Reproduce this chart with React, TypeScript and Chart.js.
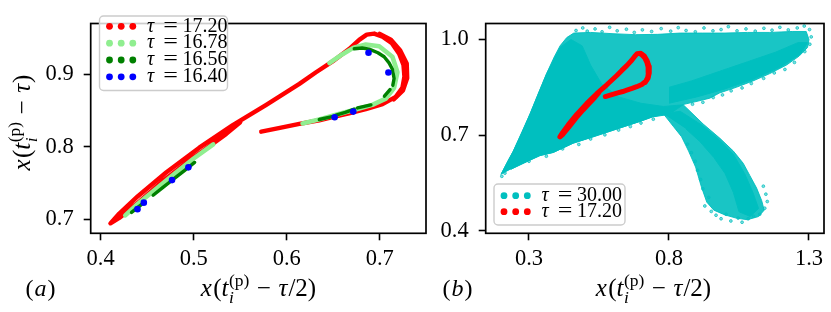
import React, { useEffect, useRef } from "react";
import { Chart, registerables } from "chart.js";
Chart.register(...registerables);

type P = [number, number];

// ---------- Panel (a) data ----------
const tau1720Arcs: P[][] = [
  [[0.5726,0.8210],[0.5900,0.8255],[0.6136,0.8318],[0.6350,0.8368],[0.6493,0.8410],[0.6680,0.8465],[0.6850,0.8520],[0.7030,0.8590],[0.7172,0.8690],[0.7243,0.8815],[0.7265,0.8970],[0.7255,0.9130],[0.7208,0.9286],[0.7130,0.9430],[0.7030,0.9520],[0.6940,0.9564],[0.6860,0.9550],[0.6779,0.9477],[0.6670,0.9350],[0.6493,0.9180],[0.6315,0.9030],[0.6136,0.8870],[0.5780,0.8580],[0.5420,0.8300],[0.5060,0.7990],[0.4707,0.7650],[0.4400,0.7320],[0.4200,0.7080],[0.4105,0.6945],[0.4200,0.7020],[0.4420,0.7250],[0.4680,0.7540],[0.4930,0.7790],[0.5180,0.8020],[0.5350,0.8180],[0.5500,0.8340]],
  [[0.7000,0.9560],[0.7120,0.9480],[0.7220,0.9330],[0.7290,0.9150],[0.7295,0.8950],[0.7250,0.8780],[0.7150,0.8655]],
];
const tau1678Arcs: P[][] = [
  [[0.4265,0.7055],[0.4400,0.7215],[0.4600,0.7425],[0.4800,0.7635],[0.5000,0.7840],[0.5210,0.8035]],
  [[0.6458,0.9157],[0.6600,0.9280],[0.6720,0.9370],[0.6850,0.9414],[0.6994,0.9390],[0.7136,0.9244],[0.7190,0.9030],[0.7154,0.8815],[0.7065,0.8667],[0.6920,0.8580],[0.6750,0.8520],[0.6550,0.8450],[0.6350,0.8380],[0.6170,0.8324]],
];
const tau1656Arcs: P[][] = [
  [[0.6726,0.9355],[0.6810,0.9365],[0.6886,0.9350],[0.6980,0.9300],[0.7047,0.9244],[0.7100,0.9160],[0.7136,0.9072],[0.7154,0.8944],[0.7140,0.8850]],
  [[0.7110,0.8790],[0.7050,0.8700]],
  [[0.6905,0.8580],[0.6761,0.8538]],
  [[0.6726,0.8520],[0.6630,0.8478],[0.6530,0.8440]],
  [[0.6476,0.8415],[0.6350,0.8378]],
  [[0.4332,0.7097],[0.4457,0.7224]],
  [[0.4564,0.7333],[0.4670,0.7441],[0.4778,0.7550]],
  [[0.4796,0.7569],[0.4900,0.7674],[0.5010,0.7786]],
];
const tau1640Points: P[] = [
  [0.4396,0.7141],[0.4464,0.7231],[0.4767,0.7542],[0.4943,0.7718],
  [0.6515,0.8410],[0.6715,0.8487],[0.6879,0.9299],[0.7093,0.9026],
];

// ---------- Panel (b) data ----------
const tau3000Outline: P[] = [
  [0.200,0.577],[0.222,0.615],[0.244,0.650],[0.275,0.708],[0.304,0.767],[0.333,0.830],[0.363,0.893],[0.390,0.945],[0.411,0.980],[0.435,1.006],[0.460,1.020],[0.520,1.022],[0.600,1.018],[0.680,1.015],[0.760,1.016],[0.840,1.020],[0.920,1.020],[1.000,1.020],[1.080,1.022],[1.160,1.022],[1.240,1.025],[1.290,1.025],[1.300,1.000],[1.295,0.975],[1.265,0.948],[1.220,0.920],[1.160,0.893],[1.100,0.870],[1.040,0.850],[0.980,0.832],[0.946,0.816],[0.900,0.806],[0.850,0.796],
  [0.875,0.775],[0.922,0.735],[0.982,0.690],[1.030,0.650],[1.065,0.612],[1.089,0.573],[1.113,0.534],[1.131,0.495],[1.140,0.465],[1.120,0.445],[1.080,0.435],[1.040,0.440],[1.000,0.450],[0.960,0.465],[0.935,0.490],[0.915,0.540],[0.895,0.600],[0.870,0.650],[0.845,0.695],[0.815,0.728],[0.780,0.767],
  [0.740,0.757],[0.696,0.743],[0.640,0.727],[0.578,0.709],[0.520,0.692],[0.458,0.675],[0.387,0.646],[0.339,0.636],[0.280,0.613],[0.235,0.593],
];
const tau3000DenseLeft: P[] = [
  [0.200,0.577],[0.244,0.650],[0.304,0.767],[0.363,0.893],[0.411,0.975],[0.450,1.000],[0.490,0.980],[0.520,0.920],[0.560,0.860],[0.620,0.820],[0.700,0.800],[0.780,0.790],[0.850,0.795],[0.800,0.765],[0.740,0.757],[0.696,0.743],[0.578,0.709],[0.458,0.675],[0.387,0.646],[0.339,0.636],[0.235,0.593],
];
const tau3000DenseRight: P[] = [
  [0.800,0.800],[0.900,0.820],[1.000,0.845],[1.100,0.875],[1.200,0.915],[1.270,0.955],[1.295,0.990],[1.260,0.990],[1.180,0.960],[1.080,0.930],[0.980,0.900],[0.880,0.870],[0.800,0.850],
];
const tau3000DenseLower: P[] = [
  [0.780,0.767],[0.840,0.775],[0.920,0.730],[0.980,0.685],[1.030,0.640],[1.070,0.580],[1.100,0.520],[1.120,0.470],[1.090,0.445],[1.050,0.460],[1.030,0.520],[1.000,0.580],[0.960,0.630],[0.910,0.680],[0.860,0.720],
];
const tau3000Sparse: P[] = [
  [0.468,1.028],[0.492,1.036],[0.508,1.026],[0.536,1.033],[0.561,1.024],[0.588,1.038],[0.615,1.027],[0.648,1.032],[0.676,1.022],[0.705,1.030],[0.738,1.025],[0.772,1.034],[0.806,1.026],[0.833,1.037],[0.861,1.028],[0.894,1.024],[0.925,1.036],[0.957,1.027],[0.986,1.031],[1.012,1.040],[1.043,1.027],[1.075,1.033],[1.108,1.026],[1.139,1.035],[1.168,1.029],[1.196,1.038],[1.226,1.030],[1.258,1.036],[1.283,1.042],[1.302,1.031],[1.308,1.008],[1.303,0.985],[1.285,0.962],
  [1.248,0.928],[1.214,0.906],[1.176,0.895],[1.138,0.878],[1.094,0.862],[1.061,0.848],[1.022,0.839],[0.991,0.826],[0.958,0.818],[0.921,0.803],[0.884,0.797],
  [0.928,0.478],[0.942,0.505],[0.951,0.461],[0.968,0.449],[0.986,0.438],[1.004,0.452],[1.021,0.431],[1.047,0.440],[1.061,0.427],[1.083,0.438],[1.102,0.446],[1.124,0.452],[1.142,0.471],[1.151,0.492],[1.146,0.515],[1.137,0.540],[0.921,0.532],[0.913,0.561],[0.902,0.590],[0.894,0.618],[0.880,0.645],[0.866,0.672],
  [0.300,0.618],[0.362,0.634],[0.420,0.657],[0.478,0.671],[0.520,0.688],[0.571,0.701],[0.620,0.716],[0.662,0.727],[0.700,0.738],[0.744,0.750],[0.203,0.571],[0.214,0.581],
];

// ---------- axes ----------
const aXRange: P = [0.3893, 0.7497];
const aYRange: P = [0.6808, 0.9703];
const aXTicks = [0.4, 0.5, 0.6, 0.7];
const aYTicks = [0.7, 0.8, 0.9];
const bXRange: P = [0.1454, 1.3536];
const bYRange: P = [0.3924, 1.050];
const bXTicks = [0.3, 0.8, 1.3];
const bYTicks = [0.4, 0.7, 1.0];

const legendALabels = ["17.20", "16.78", "16.56", "16.40"];
const legendAColors = ["#ff0000", "#90ee90", "#008000", "#0000ff"];
const legendBLabels = ["30.00", "17.20"];
const legendBColors = ["#00bfbf", "#ff0000"];

const RED = "#ff0000";
const LGREEN = "#90ee90";
const DGREEN = "#008000";
const BLUE = "#0000ff";
const CYAN = "#00bfbf";
const FONT = '"Liberation Serif", "DejaVu Serif", serif';
const TICK_SIZE = 22.5;
const LEGEND_SIZE = 20;
const LABEL_SIZE = 25;

const toXY = (pts: P[]) => pts.map(([x, y]) => ({ x, y }));
const lineDs = (pts: P[], color: string, width: number) => ({
  data: toXY(pts), borderColor: color, backgroundColor: color, borderWidth: width,
  pointRadius: 0, showLine: true, fill: false, tension: 0,
  borderCapStyle: "round", borderJoinStyle: "round",
});
const shapeDs = (pts: P[], color: string) => ({
  data: toXY(pts), borderColor: color, backgroundColor: color, borderWidth: 1,
  pointRadius: 0, showLine: true, fill: "shape", tension: 0,
});

function layoutMath(ctx: CanvasRenderingContext2D, size: number, tail: string, draw: boolean, x0: number, base: number) {
  let x = x0;
  const f = (it: boolean, s: number) => `${it ? "italic " : ""}${s}px ${FONT}`;
  const put = (t: string, it: boolean, s: number, dy: number) => {
    ctx.font = f(it, s);
    if (draw) ctx.fillText(t, x, base + dy);
    return ctx.measureText(t).width;
  };
  x += put("x", true, size, 0) + 0.05 * size;
  x += put("(", false, size, 0);
  x += put("t", true, size, 0) + 0.02 * size;
  const s2 = size * 0.7;
  const w1 = put("(p)", false, s2, -0.42 * size);
  const w2 = put("i", true, s2, 0.26 * size);
  x += Math.max(w1, w2) + 0.3 * size;
  x += put("\u2212", false, size, 0) + 0.3 * size;
  x += put("\u03c4", true, size, 0) + 0.04 * size;
  x += put(tail, false, size, 0);
  return x - x0;
}
function drawMathCentered(ctx: CanvasRenderingContext2D, cx: number, base: number, size: number, tail: string) {
  ctx.save();
  ctx.fillStyle = "#000";
  ctx.textAlign = "left";
  ctx.textBaseline = "alphabetic";
  const w = layoutMath(ctx, size, tail, false, 0, 0);
  layoutMath(ctx, size, tail, true, cx - w / 2, base);
  ctx.restore();
}
function drawPanelTag(ctx: CanvasRenderingContext2D, cx: number, base: number, letter: string) {
  ctx.save();
  ctx.fillStyle = "#000";
  ctx.textBaseline = "alphabetic";
  ctx.textAlign = "left";
  const s = 24;
  ctx.font = `${s}px ${FONT}`;
  const w1 = ctx.measureText("(").width;
  ctx.font = `italic ${s}px ${FONT}`;
  const w2 = ctx.measureText(letter).width;
  let x = cx - (2 * w1 + w2 + 2) / 2;
  ctx.font = `${s}px ${FONT}`; ctx.fillText("(", x, base); x += w1 + 1;
  ctx.font = `italic ${s}px ${FONT}`; ctx.fillText(letter, x, base); x += w2 + 1;
  ctx.font = `${s}px ${FONT}`; ctx.fillText(")", x, base);
  ctx.restore();
}
function drawLegend(ctx: CanvasRenderingContext2D, left: number, top: number, w: number, h: number, rowY: number[], labels: string[], colors: string[]) {
  ctx.save();
  const r = 4;
  ctx.beginPath();
  ctx.moveTo(left + r, top);
  ctx.arcTo(left + w, top, left + w, top + h, r);
  ctx.arcTo(left + w, top + h, left, top + h, r);
  ctx.arcTo(left, top + h, left, top, r);
  ctx.arcTo(left, top, left + w, top, r);
  ctx.closePath();
  ctx.fillStyle = "rgba(255,255,255,0.8)";
  ctx.fill();
  ctx.strokeStyle = "#cccccc";
  ctx.lineWidth = 1.4;
  ctx.stroke();
  const size = LEGEND_SIZE;
  labels.forEach((lab, i) => {
    const y = rowY[i];
    ctx.fillStyle = colors[i];
    [10, 21.7, 33.3].forEach((dx) => {
      ctx.beginPath();
      ctx.arc(left + dx, y, 3.4, 0, Math.PI * 2);
      ctx.fill();
    });
    ctx.fillStyle = "#000";
    ctx.textBaseline = "middle";
    ctx.textAlign = "left";
    const tx = left + 47.5;
    ctx.font = `italic ${size}px ${FONT}`;
    ctx.fillText("\u03c4", tx, y);
    ctx.font = `${size}px ${FONT}`;
    ctx.save();
    ctx.translate(tx + 16.3, y);
    ctx.scale(1.3, 1);
    ctx.fillText("=", 0, 0);
    ctx.restore();
    ctx.fillText(lab, tx + 35.5, y);
  });
  ctx.restore();
}
const framePlugin = {
  id: "frame",
  afterDatasetsDraw(chart: any) {
    const { ctx, chartArea: a } = chart;
    ctx.save();
    ctx.strokeStyle = "#000";
    ctx.lineWidth = 1.7;
    ctx.strokeRect(a.left, a.top, a.right - a.left, a.bottom - a.top);
    ctx.restore();
  },
};

function axisCfg(range: P, ticks: number[], isX: boolean, fit: number) {
  return {
    type: "linear",
    min: range[0],
    max: range[1],
    afterBuildTicks: (s: any) => { s.ticks = ticks.map((v) => ({ value: v })); },
    afterFit: (s: any) => { if (isX) s.height = fit; else s.width = fit; },
    ticks: {
      callback: (v: any) => Number(v).toFixed(1),
      font: { family: FONT, size: TICK_SIZE },
      color: "#000",
      padding: isX ? 5 : 10,
      maxRotation: 0,
      autoSkip: false,
    },
    grid: { display: true, drawOnChartArea: false, drawTicks: true, tickLength: 7, tickWidth: 1.6, tickColor: "#000", color: "#000" },
    border: { display: false },
  };
}

function makeA(canvas: HTMLCanvasElement) {
  const datasets: any[] = [];
  datasets.push({ data: toXY(tau1640Points), showLine: false, pointRadius: 3.3, pointBorderWidth: 0, pointBackgroundColor: BLUE, borderColor: BLUE, backgroundColor: BLUE });
  tau1656Arcs.forEach((a) => datasets.push(lineDs(a, DGREEN, 3.4)));
  tau1678Arcs.forEach((a) => datasets.push(lineDs(a, LGREEN, 4.6)));
  tau1720Arcs.forEach((a) => datasets.push(lineDs(a, RED, 4.4)));
  const labels = {
    id: "labelsA",
    afterDraw(chart: any) {
      const { ctx } = chart;
      drawLegend(ctx, 99.5, 16, 128, 74.5, [26.3, 43.2, 60, 76.8], legendALabels, legendAColors);
      drawMathCentered(ctx, 258.5, 296, LABEL_SIZE, "/2)");
      ctx.save();
      ctx.translate(30, 122.5);
      ctx.rotate(-Math.PI / 2);
      drawMathCentered(ctx, 0, 0, LABEL_SIZE, ")");
      ctx.restore();
      drawPanelTag(ctx, 40.5, 296, "a");
    },
  };
  return new Chart(canvas, {
    type: "line",
    data: { datasets },
    options: {
      animation: false, responsive: false, events: [],
      layout: { padding: { left: 0, top: 7.5, right: 3, bottom: 0 } },
      scales: { x: axisCfg(aXRange, aXTicks, true, 78.7), y: axisCfg(aYRange, aYTicks, false, 90.7) } as any,
      plugins: { legend: { display: false }, tooltip: { enabled: false } },
    },
    plugins: [framePlugin, labels],
  } as any);
}

function makeB(canvas: HTMLCanvasElement) {
  const datasets: any[] = [];
  tau1720Arcs.forEach((a) => datasets.push(lineDs(a, RED, 5)));
  datasets.push({ data: toXY(tau3000Sparse), showLine: false, pointRadius: 1.4, pointBorderWidth: 0.8, pointBorderColor: "rgba(0,191,191,0.9)", pointBackgroundColor: "rgba(0,191,191,0.5)", borderColor: CYAN, backgroundColor: CYAN });
  datasets.push(shapeDs(tau3000DenseLower, CYAN));
  datasets.push(shapeDs(tau3000DenseRight, CYAN));
  datasets.push(shapeDs(tau3000DenseLeft, CYAN));
  datasets.push(shapeDs(tau3000Outline, "rgba(0,191,191,0.9)"));
  const labels = {
    id: "labelsB",
    afterDraw(chart: any) {
      const { ctx } = chart;
      drawLegend(ctx, 64, 184, 131, 41, [195.7, 211.7], legendBLabels, legendBColors);
      drawMathCentered(ctx, 223.5, 296, LABEL_SIZE, "/2)");
      drawPanelTag(ctx, 27.5, 296, "b");
    },
  };
  return new Chart(canvas, {
    type: "line",
    data: { datasets },
    options: {
      animation: false, responsive: false, events: [],
      layout: { padding: { left: 0, top: 7.5, right: 7, bottom: 0 } },
      scales: { x: axisCfg(bXRange, bXTicks, true, 78.7), y: axisCfg(bYRange, bYTicks, false, 55.7) } as any,
      plugins: { legend: { display: false }, tooltip: { enabled: false } },
    },
    plugins: [framePlugin, labels],
  } as any);
}

export default function App() {
  const refA = useRef<HTMLCanvasElement>(null);
  const refB = useRef<HTMLCanvasElement>(null);
  useEffect(() => {
    const a = makeA(refA.current!);
    const b = makeB(refB.current!);
    return () => { a.destroy(); b.destroy(); };
  }, []);
  return (
    <div style={{ position: "absolute", left: 0, top: 0, width: 831, height: 312, background: "#fff", overflow: "hidden" }}>
      <canvas ref={refA} width={430} height={312} style={{ position: "absolute", left: 0, top: 0, width: 430, height: 312 }} />
      <canvas ref={refB} width={401} height={312} style={{ position: "absolute", left: 430, top: 0, width: 401, height: 312 }} />
    </div>
  );
}
